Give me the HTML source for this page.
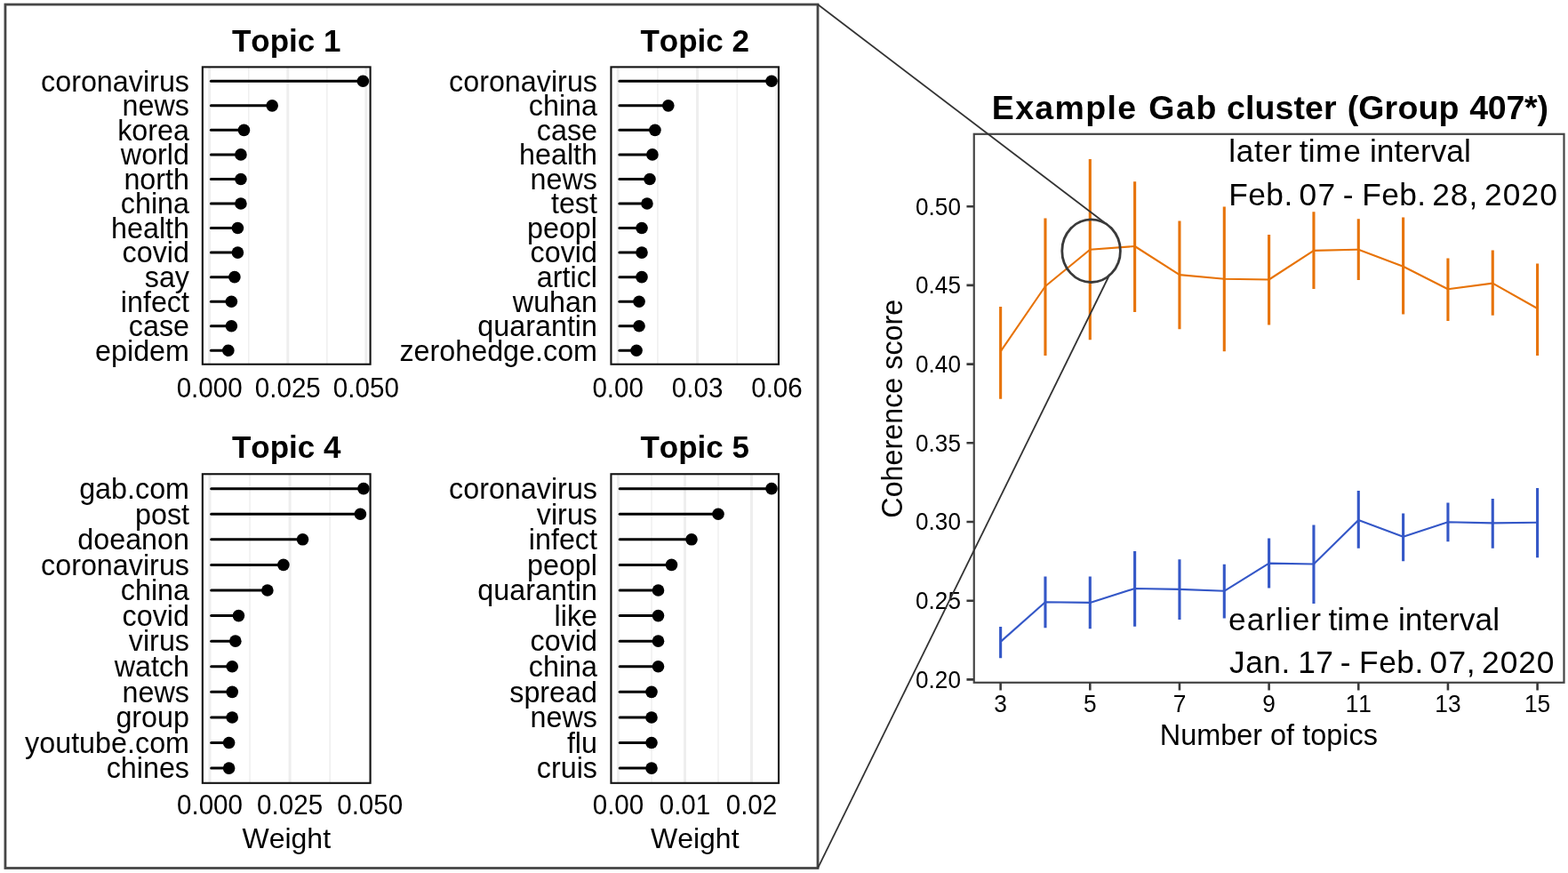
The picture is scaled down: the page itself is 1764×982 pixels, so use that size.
<!DOCTYPE html>
<html lang="en"><head><meta charset="utf-8">
<title>Example Gab cluster (Group 407*)</title>
<style>
html,body{margin:0;padding:0;background:#fff;}
body{width:1764px;height:982px;overflow:hidden;}
svg{display:block;}
text{font-family:"Liberation Sans", sans-serif;fill:#000;font-kerning:none;}
.yl{font-size:32.3px;text-anchor:end;}
.tk{font-size:29.6px;text-anchor:middle;}
.tt{font-size:35px;font-weight:bold;text-anchor:middle;}
.ax{font-size:32px;text-anchor:middle;}
.rt{font-size:26.3px;}
.gM{stroke:#eeeeee;stroke-width:3;}
.gm{stroke:#f0f0f0;stroke-width:1.6;}
.sg{stroke:#000;stroke-width:3;stroke-linecap:round;}
.pb{fill:none;stroke:#111;stroke-width:2.1;}
</style></head><body>
<svg width="1764" height="982" viewBox="0 0 1764 982">
<rect x="0" y="0" width="1764" height="982" fill="#fff"/>
<rect x="5.95" y="5.05" width="914.05" height="971.45" fill="none" stroke="#464646" stroke-width="2.8"/>
<g>
<text class="tt" x="322.23" y="57.9">Topic 1</text>
<line class="gm" x1="279.75" y1="75.4" x2="279.75" y2="409.75"/>
<line class="gm" x1="367.85" y1="75.4" x2="367.85" y2="409.75"/>
<line class="gM" x1="235.7" y1="75.4" x2="235.7" y2="409.75"/>
<line class="gM" x1="323.8" y1="75.4" x2="323.8" y2="409.75"/>
<line class="gM" x1="411.9" y1="75.4" x2="411.9" y2="409.75"/>
<line class="sg" x1="237.4" y1="91.28" x2="408.38" y2="91.28"/>
<circle cx="408.38" cy="91.28" r="6.8" fill="#000"/>
<text class="yl" x="213" y="102.58">coronavirus</text>
<line class="sg" x1="237.4" y1="118.83" x2="306.18" y2="118.83"/>
<circle cx="306.18" cy="118.83" r="6.8" fill="#000"/>
<text class="yl" x="213" y="130.13">news</text>
<line class="sg" x1="237.4" y1="146.37" x2="274.46" y2="146.37"/>
<circle cx="274.46" cy="146.37" r="6.8" fill="#000"/>
<text class="yl" x="213" y="157.67">korea</text>
<line class="sg" x1="237.4" y1="173.92" x2="270.94" y2="173.92"/>
<circle cx="270.94" cy="173.92" r="6.8" fill="#000"/>
<text class="yl" x="213" y="185.22">world</text>
<line class="sg" x1="237.4" y1="201.47" x2="270.94" y2="201.47"/>
<circle cx="270.94" cy="201.47" r="6.8" fill="#000"/>
<text class="yl" x="213" y="212.77">north</text>
<line class="sg" x1="237.4" y1="229.01" x2="270.94" y2="229.01"/>
<circle cx="270.94" cy="229.01" r="6.8" fill="#000"/>
<text class="yl" x="213" y="240.31">china</text>
<line class="sg" x1="237.4" y1="256.56" x2="267.42" y2="256.56"/>
<circle cx="267.42" cy="256.56" r="6.8" fill="#000"/>
<text class="yl" x="213" y="267.86">health</text>
<line class="sg" x1="237.4" y1="284.1" x2="267.42" y2="284.1"/>
<circle cx="267.42" cy="284.1" r="6.8" fill="#000"/>
<text class="yl" x="213" y="295.4">covid</text>
<line class="sg" x1="237.4" y1="311.65" x2="263.89" y2="311.65"/>
<circle cx="263.89" cy="311.65" r="6.8" fill="#000"/>
<text class="yl" x="213" y="322.95">say</text>
<line class="sg" x1="237.4" y1="339.2" x2="260.37" y2="339.2"/>
<circle cx="260.37" cy="339.2" r="6.8" fill="#000"/>
<text class="yl" x="213" y="350.5">infect</text>
<line class="sg" x1="237.4" y1="366.74" x2="260.37" y2="366.74"/>
<circle cx="260.37" cy="366.74" r="6.8" fill="#000"/>
<text class="yl" x="213" y="378.04">case</text>
<line class="sg" x1="237.4" y1="394.29" x2="256.84" y2="394.29"/>
<circle cx="256.84" cy="394.29" r="6.8" fill="#000"/>
<text class="yl" x="213" y="405.59">epidem</text>
<rect class="pb" x="227.85" y="75.4" width="188.75" height="334.35"/>
<g transform="matrix(1 0 0 1.04 0 -17.864)">
<text class="tk" x="235.7" y="446.6">0.000</text>
<text class="tk" x="323.8" y="446.6">0.025</text>
<text class="tk" x="411.9" y="446.6">0.050</text>
</g>
</g>
<g>
<text class="tt" x="781.73" y="57.9">Topic 2</text>
<line class="gm" x1="739.9" y1="75.4" x2="739.9" y2="409.75"/>
<line class="gm" x1="829.3" y1="75.4" x2="829.3" y2="409.75"/>
<line class="gM" x1="695.2" y1="75.4" x2="695.2" y2="409.75"/>
<line class="gM" x1="784.6" y1="75.4" x2="784.6" y2="409.75"/>
<line class="gM" x1="874" y1="75.4" x2="874" y2="409.75"/>
<line class="sg" x1="696.9" y1="91.28" x2="868.04" y2="91.28"/>
<circle cx="868.04" cy="91.28" r="6.8" fill="#000"/>
<text class="yl" x="672" y="102.58">coronavirus</text>
<line class="sg" x1="696.9" y1="118.83" x2="751.82" y2="118.83"/>
<circle cx="751.82" cy="118.83" r="6.8" fill="#000"/>
<text class="yl" x="672" y="130.13">china</text>
<line class="sg" x1="696.9" y1="146.37" x2="736.92" y2="146.37"/>
<circle cx="736.92" cy="146.37" r="6.8" fill="#000"/>
<text class="yl" x="672" y="157.67">case</text>
<line class="sg" x1="696.9" y1="173.92" x2="733.94" y2="173.92"/>
<circle cx="733.94" cy="173.92" r="6.8" fill="#000"/>
<text class="yl" x="672" y="185.22">health</text>
<line class="sg" x1="696.9" y1="201.47" x2="730.96" y2="201.47"/>
<circle cx="730.96" cy="201.47" r="6.8" fill="#000"/>
<text class="yl" x="672" y="212.77">news</text>
<line class="sg" x1="696.9" y1="229.01" x2="727.98" y2="229.01"/>
<circle cx="727.98" cy="229.01" r="6.8" fill="#000"/>
<text class="yl" x="672" y="240.31">test</text>
<line class="sg" x1="696.9" y1="256.56" x2="722.02" y2="256.56"/>
<circle cx="722.02" cy="256.56" r="6.8" fill="#000"/>
<text class="yl" x="672" y="267.86">peopl</text>
<line class="sg" x1="696.9" y1="284.1" x2="722.02" y2="284.1"/>
<circle cx="722.02" cy="284.1" r="6.8" fill="#000"/>
<text class="yl" x="672" y="295.4">covid</text>
<line class="sg" x1="696.9" y1="311.65" x2="722.02" y2="311.65"/>
<circle cx="722.02" cy="311.65" r="6.8" fill="#000"/>
<text class="yl" x="672" y="322.95">articl</text>
<line class="sg" x1="696.9" y1="339.2" x2="719.04" y2="339.2"/>
<circle cx="719.04" cy="339.2" r="6.8" fill="#000"/>
<text class="yl" x="672" y="350.5">wuhan</text>
<line class="sg" x1="696.9" y1="366.74" x2="719.04" y2="366.74"/>
<circle cx="719.04" cy="366.74" r="6.8" fill="#000"/>
<text class="yl" x="672" y="378.04">quarantin</text>
<line class="sg" x1="696.9" y1="394.29" x2="716.06" y2="394.29"/>
<circle cx="716.06" cy="394.29" r="6.8" fill="#000"/>
<text class="yl" x="672" y="405.59">zerohedge.com</text>
<rect class="pb" x="687.45" y="75.4" width="188.55" height="334.35"/>
<g transform="matrix(1 0 0 1.04 0 -17.864)">
<text class="tk" x="695.2" y="446.6">0.00</text>
<text class="tk" x="784.6" y="446.6">0.03</text>
<text class="tk" x="874" y="446.6">0.06</text>
</g>
</g>
<g>
<text class="tt" x="322.23" y="515.3">Topic 4</text>
<line class="gm" x1="281.05" y1="533.25" x2="281.05" y2="880.8"/>
<line class="gm" x1="371.15" y1="533.25" x2="371.15" y2="880.8"/>
<line class="gM" x1="236" y1="533.25" x2="236" y2="880.8"/>
<line class="gM" x1="326.1" y1="533.25" x2="326.1" y2="880.8"/>
<line class="gM" x1="416.2" y1="533.25" x2="416.2" y2="880.8"/>
<line class="sg" x1="237.7" y1="549.64" x2="408.99" y2="549.64"/>
<circle cx="408.99" cy="549.64" r="6.8" fill="#000"/>
<text class="yl" x="213" y="560.94">gab.com</text>
<line class="sg" x1="237.7" y1="578.23" x2="405.39" y2="578.23"/>
<circle cx="405.39" cy="578.23" r="6.8" fill="#000"/>
<text class="yl" x="213" y="589.53">post</text>
<line class="sg" x1="237.7" y1="606.82" x2="340.52" y2="606.82"/>
<circle cx="340.52" cy="606.82" r="6.8" fill="#000"/>
<text class="yl" x="213" y="618.12">doeanon</text>
<line class="sg" x1="237.7" y1="635.41" x2="318.89" y2="635.41"/>
<circle cx="318.89" cy="635.41" r="6.8" fill="#000"/>
<text class="yl" x="213" y="646.71">coronavirus</text>
<line class="sg" x1="237.7" y1="664" x2="300.87" y2="664"/>
<circle cx="300.87" cy="664" r="6.8" fill="#000"/>
<text class="yl" x="213" y="675.3">china</text>
<line class="sg" x1="237.7" y1="692.59" x2="268.44" y2="692.59"/>
<circle cx="268.44" cy="692.59" r="6.8" fill="#000"/>
<text class="yl" x="213" y="703.89">covid</text>
<line class="sg" x1="237.7" y1="721.17" x2="264.83" y2="721.17"/>
<circle cx="264.83" cy="721.17" r="6.8" fill="#000"/>
<text class="yl" x="213" y="732.47">virus</text>
<line class="sg" x1="237.7" y1="749.76" x2="261.23" y2="749.76"/>
<circle cx="261.23" cy="749.76" r="6.8" fill="#000"/>
<text class="yl" x="213" y="761.06">watch</text>
<line class="sg" x1="237.7" y1="778.35" x2="261.23" y2="778.35"/>
<circle cx="261.23" cy="778.35" r="6.8" fill="#000"/>
<text class="yl" x="213" y="789.65">news</text>
<line class="sg" x1="237.7" y1="806.94" x2="261.23" y2="806.94"/>
<circle cx="261.23" cy="806.94" r="6.8" fill="#000"/>
<text class="yl" x="213" y="818.24">group</text>
<line class="sg" x1="237.7" y1="835.53" x2="257.62" y2="835.53"/>
<circle cx="257.62" cy="835.53" r="6.8" fill="#000"/>
<text class="yl" x="213" y="846.83">youtube.com</text>
<line class="sg" x1="237.7" y1="864.12" x2="257.62" y2="864.12"/>
<circle cx="257.62" cy="864.12" r="6.8" fill="#000"/>
<text class="yl" x="213" y="875.42">chines</text>
<rect class="pb" x="227.85" y="533.25" width="188.75" height="347.55"/>
<g transform="matrix(1 0 0 1.04 0 -36.660)">
<text class="tk" x="236" y="916.5">0.000</text>
<text class="tk" x="326.1" y="916.5">0.025</text>
<text class="tk" x="416.2" y="916.5">0.050</text>
</g>
<text class="ax" x="322.23" y="954.3">Weight</text>
</g>
<g>
<text class="tt" x="781.73" y="515.3">Topic 5</text>
<line class="gm" x1="733" y1="533.25" x2="733" y2="880.8"/>
<line class="gm" x1="808" y1="533.25" x2="808" y2="880.8"/>
<line class="gM" x1="695.5" y1="533.25" x2="695.5" y2="880.8"/>
<line class="gM" x1="770.5" y1="533.25" x2="770.5" y2="880.8"/>
<line class="gM" x1="845.5" y1="533.25" x2="845.5" y2="880.8"/>
<line class="sg" x1="697.2" y1="549.64" x2="868" y2="549.64"/>
<circle cx="868" cy="549.64" r="6.8" fill="#000"/>
<text class="yl" x="672" y="560.94">coronavirus</text>
<line class="sg" x1="697.2" y1="578.23" x2="808" y2="578.23"/>
<circle cx="808" cy="578.23" r="6.8" fill="#000"/>
<text class="yl" x="672" y="589.53">virus</text>
<line class="sg" x1="697.2" y1="606.82" x2="778" y2="606.82"/>
<circle cx="778" cy="606.82" r="6.8" fill="#000"/>
<text class="yl" x="672" y="618.12">infect</text>
<line class="sg" x1="697.2" y1="635.41" x2="755.5" y2="635.41"/>
<circle cx="755.5" cy="635.41" r="6.8" fill="#000"/>
<text class="yl" x="672" y="646.71">peopl</text>
<line class="sg" x1="697.2" y1="664" x2="740.5" y2="664"/>
<circle cx="740.5" cy="664" r="6.8" fill="#000"/>
<text class="yl" x="672" y="675.3">quarantin</text>
<line class="sg" x1="697.2" y1="692.59" x2="740.5" y2="692.59"/>
<circle cx="740.5" cy="692.59" r="6.8" fill="#000"/>
<text class="yl" x="672" y="703.89">like</text>
<line class="sg" x1="697.2" y1="721.17" x2="740.5" y2="721.17"/>
<circle cx="740.5" cy="721.17" r="6.8" fill="#000"/>
<text class="yl" x="672" y="732.47">covid</text>
<line class="sg" x1="697.2" y1="749.76" x2="740.5" y2="749.76"/>
<circle cx="740.5" cy="749.76" r="6.8" fill="#000"/>
<text class="yl" x="672" y="761.06">china</text>
<line class="sg" x1="697.2" y1="778.35" x2="733" y2="778.35"/>
<circle cx="733" cy="778.35" r="6.8" fill="#000"/>
<text class="yl" x="672" y="789.65">spread</text>
<line class="sg" x1="697.2" y1="806.94" x2="733" y2="806.94"/>
<circle cx="733" cy="806.94" r="6.8" fill="#000"/>
<text class="yl" x="672" y="818.24">news</text>
<line class="sg" x1="697.2" y1="835.53" x2="733" y2="835.53"/>
<circle cx="733" cy="835.53" r="6.8" fill="#000"/>
<text class="yl" x="672" y="846.83">flu</text>
<line class="sg" x1="697.2" y1="864.12" x2="733" y2="864.12"/>
<circle cx="733" cy="864.12" r="6.8" fill="#000"/>
<text class="yl" x="672" y="875.42">cruis</text>
<rect class="pb" x="687.45" y="533.25" width="188.55" height="347.55"/>
<g transform="matrix(1 0 0 1.04 0 -36.660)">
<text class="tk" x="695.5" y="916.5">0.00</text>
<text class="tk" x="770.5" y="916.5">0.01</text>
<text class="tk" x="845.5" y="916.5">0.02</text>
</g>
<text class="ax" x="781.73" y="954.3">Weight</text>
</g>
<g>
<text y="133.9" style="font-size:37.5px;font-weight:bold;"><tspan x="1115.79" style="letter-spacing:1.36px">Example</tspan> <tspan x="1292.16" style="letter-spacing:1.72px">Gab</tspan> <tspan x="1379.94" style="letter-spacing:0.11px">cluster</tspan> <tspan x="1515.63" style="letter-spacing:0.17px">(Group</tspan> <tspan x="1653.23" style="letter-spacing:-0.23px">407*)</tspan></text>
<polyline points="1125.64,395.3 1175.97,322 1226.3,280.7 1276.63,277 1326.96,309.1 1377.29,313.7 1427.62,314.5 1477.95,281.9 1528.28,280.7 1578.61,299.7 1628.94,325.3 1679.27,318.6 1729.6,347" fill="none" stroke="#E77308" stroke-width="2.1" stroke-linejoin="round"/>
<path d="M1125.64 344.9V448.8M1175.97 245.6V399.9M1226.3 179V382.2M1276.63 204.3V351M1326.96 248.6V370.2M1377.29 232.4V395.3M1427.62 263.9V365.4M1477.95 238.2V325M1528.28 246.2V315M1578.61 244.4V353.5M1628.94 290.5V361.1M1679.27 281.6V354.7M1729.6 296.6V399.9" fill="none" stroke="#E77308" stroke-width="3.1"/>
<polyline points="1125.64,721.9 1175.97,677.3 1226.3,677.9 1276.63,662 1326.96,662.9 1377.29,664.8 1427.62,633.6 1477.95,634.5 1528.28,585 1578.61,603.7 1628.94,587.2 1679.27,588.4 1729.6,587.8" fill="none" stroke="#3457C7" stroke-width="2.1" stroke-linejoin="round"/>
<path d="M1125.64 705.1V740.2M1175.97 648.6V706.3M1226.3 648.6V707.2M1276.63 620.1V704.8M1326.96 629.3V697.1M1377.29 634.8V695.6M1427.62 605.5V661.4M1477.95 590.5V679.1M1528.28 552V616.8M1578.61 577.4V631.2M1628.94 565.5V609.2M1679.27 560.9V616.8M1729.6 548.9V627.2" fill="none" stroke="#3457C7" stroke-width="3.1"/>
<text y="182.3" style="font-size:35.3px;"><tspan x="1382.22" style="letter-spacing:0.6px">later</tspan> <tspan x="1461.77" style="letter-spacing:0.3px">tim</tspan><tspan x="1511.3" style="letter-spacing:0px">e</tspan> <tspan x="1541.04" style="letter-spacing:-0.01px">interval</tspan></text>
<text y="230.7" style="font-size:35.3px;"><tspan x="1382.3" style="letter-spacing:0.43px">Feb.</tspan> <tspan x="1461.52" style="letter-spacing:1.29px">07</tspan> <tspan x="1510.83" style="letter-spacing:0px">-</tspan> <tspan x="1532.2" style="letter-spacing:0.39px">Feb.</tspan> <tspan x="1611.22" style="letter-spacing:0.95px">28</tspan><tspan x="1652.43" style="letter-spacing:0px">,</tspan> <tspan x="1669.92" style="letter-spacing:1.14px">2020</tspan></text>
<text y="708.5" style="font-size:35.3px;"><tspan x="1382" style="letter-spacing:1px">earlier</tspan> <tspan x="1494.47" style="letter-spacing:0px">tim</tspan><tspan x="1543.6" style="letter-spacing:0px">e</tspan> <tspan x="1572.94" style="letter-spacing:0.05px">interval</tspan></text>
<text y="756.7" style="font-size:35.3px;"><tspan x="1382.95" style="letter-spacing:0.55px">Jan.</tspan> <tspan x="1460.21" style="letter-spacing:0.3px">17</tspan> <tspan x="1507.83" style="letter-spacing:0px">-</tspan> <tspan x="1529.1" style="letter-spacing:0.49px">Feb.</tspan> <tspan x="1608.52" style="letter-spacing:1.29px">07</tspan><tspan x="1649.83" style="letter-spacing:0px">,</tspan> <tspan x="1667.12" style="letter-spacing:0.94px">2020</tspan></text>
<rect x="1095.75" y="150.8" width="663.75" height="617" fill="none" stroke="#444" stroke-width="2.2"/>
<text class="rt" text-anchor="end" x="1080.9" y="773.8" style="font-size:26.1px" transform="matrix(1 0 0 1.04 0 -30.952)">0.20</text>
<text class="rt" text-anchor="end" x="1080.9" y="685.1" style="font-size:26.1px" transform="matrix(1 0 0 1.04 0 -27.404)">0.25</text>
<text class="rt" text-anchor="end" x="1080.9" y="596.4" style="font-size:26.1px" transform="matrix(1 0 0 1.04 0 -23.856)">0.30</text>
<text class="rt" text-anchor="end" x="1080.9" y="507.7" style="font-size:26.1px" transform="matrix(1 0 0 1.04 0 -20.308)">0.35</text>
<text class="rt" text-anchor="end" x="1080.9" y="419" style="font-size:26.1px" transform="matrix(1 0 0 1.04 0 -16.760)">0.40</text>
<text class="rt" text-anchor="end" x="1080.9" y="330.3" style="font-size:26.1px" transform="matrix(1 0 0 1.04 0 -13.212)">0.45</text>
<text class="rt" text-anchor="end" x="1080.9" y="241.6" style="font-size:26.1px" transform="matrix(1 0 0 1.04 0 -9.664)">0.50</text>
<text class="rt" text-anchor="middle" x="1125.64" y="801.5" transform="matrix(1 0 0 1.04 0 -32.060)">3</text>
<text class="rt" text-anchor="middle" x="1226.3" y="801.5" transform="matrix(1 0 0 1.04 0 -32.060)">5</text>
<text class="rt" text-anchor="middle" x="1326.96" y="801.5" transform="matrix(1 0 0 1.04 0 -32.060)">7</text>
<text class="rt" text-anchor="middle" x="1427.62" y="801.5" transform="matrix(1 0 0 1.04 0 -32.060)">9</text>
<text class="rt" text-anchor="middle" x="1528.28" y="801.5" transform="matrix(1 0 0 1.04 0 -32.060)">11</text>
<text class="rt" text-anchor="middle" x="1628.94" y="801.5" transform="matrix(1 0 0 1.04 0 -32.060)">13</text>
<text class="rt" text-anchor="middle" x="1729.6" y="801.5" transform="matrix(1 0 0 1.04 0 -32.060)">15</text>
<path d="M1087.45 764.4H1095.75M1087.45 675.7H1095.75M1087.45 587H1095.75M1087.45 498.3H1095.75M1087.45 409.6H1095.75M1087.45 320.9H1095.75M1087.45 232.2H1095.75M1125.64 767.8V776.4M1226.3 767.8V776.4M1326.96 767.8V776.4M1427.62 767.8V776.4M1528.28 767.8V776.4M1628.94 767.8V776.4M1729.6 767.8V776.4" fill="none" stroke="#3a3a3a" stroke-width="2.6"/>
<text class="ax" x="1427.3" y="838.3" style="font-size:32.45px">Number of topics</text>
<text class="ax" transform="translate(1015 459.7) rotate(-90)" style="font-size:32.3px">Coherence score</text>
</g>
<line x1="920" y1="5.05" x2="1246" y2="253" stroke="#333" stroke-width="1.8"/>
<line x1="920" y1="976.6" x2="1248.5" y2="308.5" stroke="#333" stroke-width="1.8"/>
<ellipse cx="1227.6" cy="282.2" rx="32.8" ry="35.3" fill="none" stroke="#3a3a3a" stroke-width="2.8"/>
</svg>
</body></html>
